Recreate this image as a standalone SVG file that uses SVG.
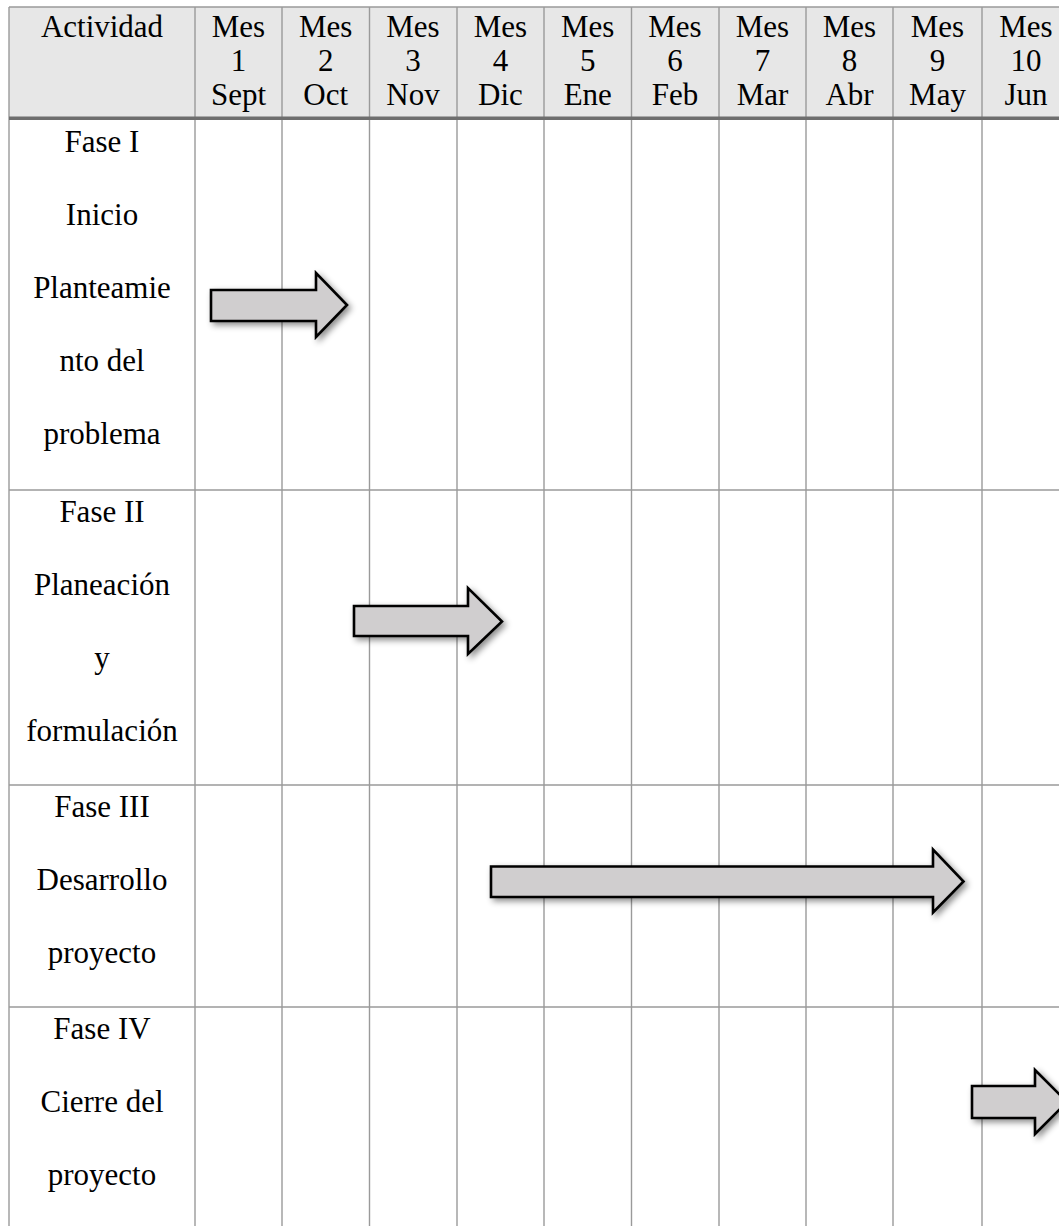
<svg xmlns="http://www.w3.org/2000/svg" width="1059" height="1226" viewBox="0 0 1059 1226">
<defs>
<style>
text{font-family:"Liberation Serif","Times New Roman",serif;font-size:31px;fill:#000;text-anchor:middle}
.grid{stroke:#9a9a9a;stroke-width:1.4;fill:none}
.arrow{fill:#d0cecf;stroke:#000;stroke-width:2.6;stroke-linejoin:miter;filter:url(#sh)}
</style>
<filter id="sh" x="-20%" y="-50%" width="140%" height="200%">
<feDropShadow dx="3" dy="3" stdDeviation="3" flood-color="#000" flood-opacity="0.45"/>
</filter>
</defs>
<rect width="1059" height="1226" fill="#fff"/>
<rect id="header-bg" x="9" y="7" width="1050" height="110" fill="#e7e7e7"/>
<g id="grid" class="grid">
<line x1="9" y1="7" x2="1059" y2="7"/>
<line x1="9" y1="490" x2="1059" y2="490"/>
<line x1="9" y1="785" x2="1059" y2="785"/>
<line x1="9" y1="1007" x2="1059" y2="1007"/>
<line x1="9" y1="7" x2="9" y2="1226"/>
<line x1="195" y1="7" x2="195" y2="1226"/>
<line x1="282" y1="7" x2="282" y2="1226"/>
<line x1="369.5" y1="7" x2="369.5" y2="1226"/>
<line x1="457" y1="7" x2="457" y2="1226"/>
<line x1="544" y1="7" x2="544" y2="1226"/>
<line x1="631.5" y1="7" x2="631.5" y2="1226"/>
<line x1="719" y1="7" x2="719" y2="1226"/>
<line x1="806" y1="7" x2="806" y2="1226"/>
<line x1="893" y1="7" x2="893" y2="1226"/>
<line x1="982" y1="7" x2="982" y2="1226"/>
</g>
<rect id="header-rule" x="9" y="116.5" width="1050" height="3.5" fill="#6e6e6e"/>
<g id="header">
<text x="102" y="37">Actividad</text>
<g id="h1"><text x="238.5" y="37">Mes</text><text x="238.5" y="71">1</text><text x="238.5" y="104.5">Sept</text></g>
<g id="h2"><text x="325.75" y="37">Mes</text><text x="325.75" y="71">2</text><text x="325.75" y="104.5">Oct</text></g>
<g id="h3"><text x="413" y="37">Mes</text><text x="413" y="71">3</text><text x="413" y="104.5">Nov</text></g>
<g id="h4"><text x="500.5" y="37">Mes</text><text x="500.5" y="71">4</text><text x="500.5" y="104.5">Dic</text></g>
<g id="h5"><text x="587.75" y="37">Mes</text><text x="587.75" y="71">5</text><text x="587.75" y="104.5">Ene</text></g>
<g id="h6"><text x="675" y="37">Mes</text><text x="675" y="71">6</text><text x="675" y="104.5">Feb</text></g>
<g id="h7"><text x="762.5" y="37">Mes</text><text x="762.5" y="71">7</text><text x="762.5" y="104.5">Mar</text></g>
<g id="h8"><text x="849.5" y="37">Mes</text><text x="849.5" y="71">8</text><text x="849.5" y="104.5">Abr</text></g>
<g id="h9"><text x="937.5" y="37">Mes</text><text x="937.5" y="71">9</text><text x="937.5" y="104.5">May</text></g>
<g id="h10"><text x="1026" y="37">Mes</text><text x="1026" y="71">10</text><text x="1026" y="104.5">Jun</text></g>
</g>
<g id="fase1">
<text x="102" y="152">Fase I</text>
<text x="102" y="225">Inicio</text>
<text x="102" y="298">Planteamie</text>
<text x="102" y="371">nto del</text>
<text x="102" y="444">problema</text>
</g>
<g id="fase2">
<text x="102" y="522">Fase II</text>
<text x="102" y="595">Planeación</text>
<text x="102" y="668">y</text>
<text x="102" y="741">formulación</text>
</g>
<g id="fase3">
<text x="102" y="817">Fase III</text>
<text x="102" y="890">Desarrollo</text>
<text x="102" y="963">proyecto</text>
</g>
<g id="fase4">
<text x="102" y="1039">Fase IV</text>
<text x="102" y="1112">Cierre del</text>
<text x="102" y="1185">proyecto</text>
</g>
<g id="connectors">
<path id="arrow1" class="arrow" d="M211,290 H316 V273 L347,305 L316,337 V321 H211 Z"/>
<path id="arrow2" class="arrow" d="M354,606 H468 V588 L502,621.5 L468,654 V636 H354 Z"/>
<path id="arrow3" class="arrow" d="M491,866.5 H933 V849.5 L963.5,881.5 L933,912.5 V897 H491 Z"/>
<path id="arrow4" class="arrow" d="M972,1086 H1035 V1070 L1067,1102 L1035,1134 V1118 H972 Z"/>
</g>
</svg>
